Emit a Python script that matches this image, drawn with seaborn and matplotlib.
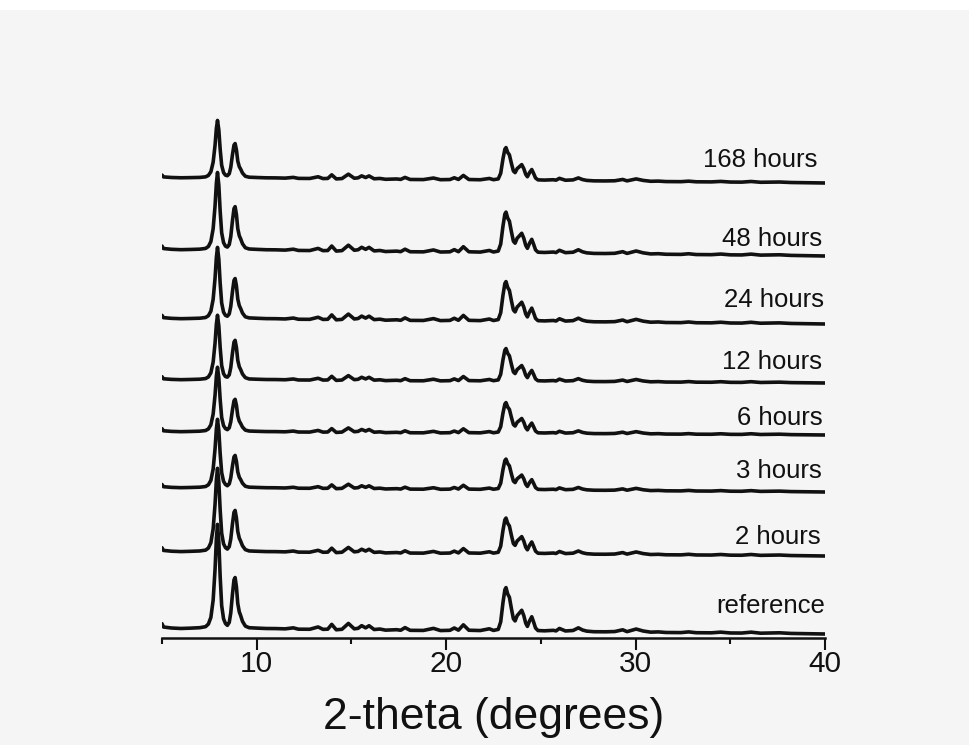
import numpy as np
import pandas as pd
import matplotlib
matplotlib.use("Agg")
import matplotlib.pyplot as plt
from matplotlib.patches import Rectangle
from matplotlib.ticker import MultipleLocator
import seaborn as sns

# ---------------- data ----------------
labels = ["reference", "2 hours", "3 hours", "6 hours",
          "12 hours", "24 hours", "48 hours", "168 hours"]

# shared diffraction profile (2-theta in degrees, height in px as in the "48 hours" trace)
two_theta = [5.00, 5.08, 5.5, 6.0, 6.5, 7.0, 7.3, 7.45, 7.58, 7.7, 7.8, 7.87, 7.93, 8.0,
             8.07, 8.15, 8.25, 8.35, 8.45, 8.55, 8.63, 8.72, 8.8, 8.86, 8.93, 9.0, 9.08,
             9.15, 9.25, 9.4, 9.6, 10.0, 10.5, 11.0, 11.5, 11.93, 12.2, 12.8, 13.24,
             13.5, 13.75, 13.96, 14.2, 14.5, 14.84, 15.15, 15.35, 15.54, 15.75, 15.93,
             16.2, 16.5, 16.8, 17.39, 17.6, 17.83, 18.1, 18.8, 19.33, 19.7, 20.2, 20.43,
             20.65, 20.91, 21.2, 21.8, 22.28, 22.5, 22.75, 22.88, 23.0, 23.1, 23.16,
             23.25, 23.34, 23.45, 23.55, 23.64, 23.75, 23.85, 23.99, 24.1, 24.2, 24.29,
             24.4, 24.52, 24.62, 24.72, 24.85, 25.2, 25.66, 25.8, 25.98, 26.3, 26.7,
             26.98, 27.2, 27.42, 27.8, 28.4, 28.9, 29.32, 29.55, 30.03, 30.4, 30.8, 31.2,
             31.6, 32.4, 32.8, 33.2, 34.0, 34.5, 35.0, 35.6, 36.1, 36.6, 37.6, 38.2, 40.0]
profile = [4, 1.5, 0.8, 0.5, 0.8, 1.2, 2, 4, 9, 22, 45, 68, 79, 66,
           40, 18, 8, 4.5, 3.5, 6, 14, 30, 42, 44, 36, 22, 15,
           12, 7, 3, 1.8, 1.5, 1.2, 1.2, 1.0, 2, 0.8, 0.8, 3,
           0.8, 1, 5.5, 0.5, 1, 6.5, 1.5, 2, 4.5, 2.5, 4.5,
           1, 1.5, 0.5, 1, 0.5, 3, 0.5, 0.5, 2.5, 0.5, 0.8, 3,
           1, 6, 1, 0.8, 2.5, 1, 2, 9, 27, 39, 41,
           35, 32, 21, 12, 10, 15, 17, 20, 15, 8, 5,
           10, 14, 9, 3.5, 1.2, 1, 1.5, 1, 3.3, 1, 1.5,
           4, 2, 1, 0.5, 0.5, 0.8, 2.5, 0.8, 3.3, 1.5, 0.5, 0.8,
           0.3, 0.3, 1, 0.3, 0.3, 1, 0.3, 0.3, 1.2, 0.3, 0.8, 0.3, 0]
profile_peak_a, profile_peak_b, profile_cluster = 79, 44, 41

# per-trace values (px): baseline at 5 and 40 degrees, heights of the three main reflections
baseline_left = [629, 552, 488, 432, 380, 319, 250, 178]
baseline_right = [634, 556, 492, 435, 383, 324, 256, 183]
peak_a = [105, 84, 69, 65, 65, 72, 78, 58]      # ~7.9 deg
peak_b = [52, 42, 33, 33, 40, 41, 44, 35]       # ~8.85 deg
cluster = [44, 36, 31, 31, 33, 40, 41, 33]      # ~23.1 deg

# ---------------- build long-form table ----------------
tt = np.array(two_theta)
pr = np.array(profile, dtype=float)
rows = []
for i, lab in enumerate(labels):
    fa = peak_a[i] / profile_peak_a
    fb = peak_b[i] / profile_peak_b
    fc = cluster[i] / profile_cluster
    factor = np.where(tt < 8.45, fa, np.where(tt < 9.6, fb, fc))
    base = baseline_left[i] + (baseline_right[i] - baseline_left[i]) * (tt - 5) / 35
    y = -(base - pr * factor)
    rows.append(pd.DataFrame({"two_theta": tt, "intensity": y, "sample": lab}))
df = pd.concat(rows, ignore_index=True)

# ---------------- plot ----------------
sns.set_theme(style="white")
plt.rcParams["font.family"] = ["Liberation Sans", "DejaVu Sans"]

fig = plt.figure(figsize=(9.69, 7.45), dpi=100, facecolor="#f5f5f5")
fig.patches.append(Rectangle((0, 1 - 10 / 745), 1, 10 / 745, transform=fig.transFigure,
                             facecolor="white", edgecolor="none", zorder=-1))
ax = fig.add_axes([162 / 969, 1 - 638 / 745, (825 - 162) / 969, (638 - 100) / 745])
ax.set_facecolor("none")

sns.lineplot(data=df, x="two_theta", y="intensity", units="sample", estimator=None,
             sort=False, color="#111111", lw=2.6, ax=ax, legend=False)

ax.set_xlim(5, 40)
ax.set_ylim(-638, -100)
ax.set_yticks([])
ax.set_ylabel("")
for s in ["left", "right", "top"]:
    ax.spines[s].set_visible(False)
ax.spines["bottom"].set_linewidth(1.8)
ax.spines["bottom"].set_color("#111111")

ax.xaxis.set_major_locator(MultipleLocator(10))
ax.xaxis.set_minor_locator(MultipleLocator(5))
ax.tick_params(axis="x", which="major", direction="out", length=8.5, width=1.5,
               color="#111111", labelsize=21.5, pad=0, bottom=True)
ax.tick_params(axis="x", which="minor", direction="out", length=4.5, width=1.5,
               color="#111111", bottom=True)
ax.set_xlabel("2-theta (degrees)", fontsize=32, labelpad=14, color="#111111")
for t in ax.get_xticklabels():
    t.set_color("#111111")

# trace labels (text baseline gap above each trace, px)
label_gap = [21, 12, 14, 10, 14, 17, 10, 16]
label_right = [40.03, 39.75, 39.85, 39.85, 39.85, 39.95, 39.85, 39.6]
for i, lab in enumerate(labels):
    ax.text(label_right[i], -(baseline_right[i] - label_gap[i]), lab, ha="right",
            va="baseline", fontsize=18.5, color="#111111")

fig.savefig("out.png", dpi=100, facecolor=fig.get_facecolor())
